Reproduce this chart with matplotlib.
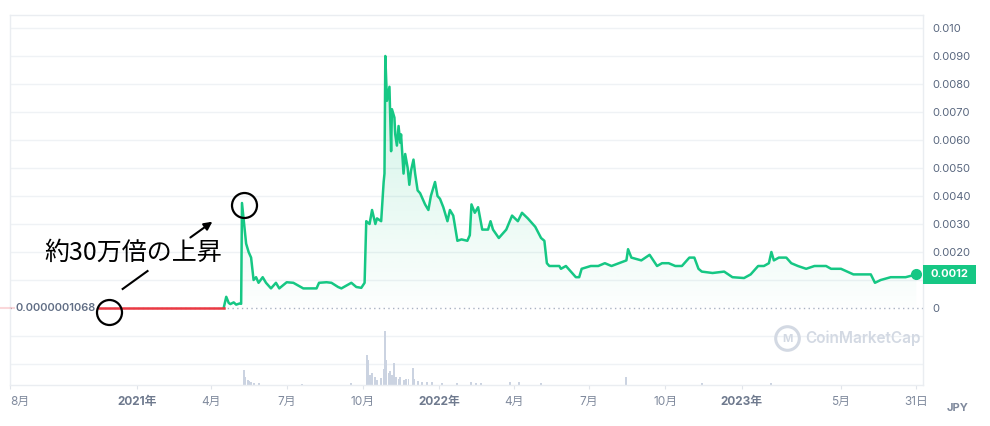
import matplotlib as mpl
mpl.use('Agg')
import matplotlib.pyplot as plt
import matplotlib.dates as mdates
import matplotlib.transforms as mtransforms
from matplotlib.colors import LinearSegmentedColormap
from matplotlib.patches import Rectangle
import numpy as np
import pandas as pd

plt.rcParams['font.family'] = ['Inter', 'Noto Sans CJK JP', 'DejaVu Sans']

GREEN = '#16c784'
RED = '#ea3943'
GRID = '#eff2f5'
LABEL = '#58667e'
MONTH = '#808a9d'

# --- data (JPY) ---
start_price = 0.0000001068
red_dates = ['2020-11-16', '2021-04-16']
red_vals = [start_price, start_price]

price_dates = [
    '2021-04-16', '2021-04-19', '2021-04-22', '2021-04-24', '2021-04-28', '2021-05-01',
    '2021-05-05', '2021-05-07', '2021-05-08', '2021-05-13', '2021-05-16', '2021-05-19',
    '2021-05-22', '2021-05-25', '2021-05-28', '2021-06-02', '2021-06-06', '2021-06-12',
    '2021-06-18', '2021-06-22', '2021-07-01', '2021-07-09', '2021-07-21', '2021-08-06',
    '2021-08-09', '2021-08-18', '2021-08-24', '2021-09-01', '2021-09-05', '2021-09-17',
    '2021-09-23', '2021-09-29', '2021-10-03', '2021-10-05', '2021-10-09', '2021-10-12',
    '2021-10-16', '2021-10-18', '2021-10-23', '2021-10-26', '2021-10-27', '2021-10-28',
    '2021-10-30', '2021-11-02', '2021-11-04', '2021-11-05', '2021-11-08', '2021-11-09',
    '2021-11-11', '2021-11-13', '2021-11-15', '2021-11-16', '2021-11-19', '2021-11-21',
    '2021-11-24', '2021-11-26', '2021-11-28', '2021-12-01', '2021-12-03', '2021-12-06',
    '2021-12-09', '2021-12-12', '2021-12-15', '2021-12-19', '2021-12-22', '2021-12-27',
    '2021-12-30', '2022-01-02', '2022-01-06', '2022-01-11', '2022-01-14', '2022-01-18',
    '2022-01-23', '2022-01-28', '2022-02-04', '2022-02-07', '2022-02-09', '2022-02-13',
    '2022-02-17', '2022-02-22', '2022-03-01', '2022-03-04', '2022-03-07', '2022-03-14',
    '2022-03-23', '2022-03-30', '2022-04-06', '2022-04-11', '2022-04-18', '2022-04-27',
    '2022-05-04', '2022-05-08', '2022-05-11', '2022-05-14', '2022-05-19', '2022-05-26',
    '2022-05-28', '2022-06-03', '2022-06-15', '2022-06-19', '2022-06-22', '2022-07-03',
    '2022-07-12', '2022-07-20', '2022-07-28', '2022-08-06', '2022-08-15', '2022-08-17',
    '2022-08-21', '2022-09-02', '2022-09-12', '2022-09-21', '2022-09-27', '2022-10-05',
    '2022-10-13', '2022-10-21', '2022-10-30', '2022-11-05', '2022-11-10', '2022-11-14',
    '2022-11-27', '2022-12-11', '2022-12-21', '2023-01-04', '2023-01-12', '2023-01-21',
    '2023-01-28', '2023-02-03', '2023-02-06', '2023-02-09', '2023-02-15', '2023-02-24',
    '2023-03-02', '2023-03-10', '2023-03-20', '2023-03-30', '2023-04-13', '2023-04-19',
    '2023-05-01', '2023-05-16', '2023-06-06', '2023-06-11', '2023-06-18', '2023-06-30',
    '2023-07-18', '2023-07-31',
]
price_vals = [
    0.00001, 0.00040, 0.00018, 0.00014, 0.00020, 0.00012,
    0.00016, 0.00015, 0.00375, 0.00230, 0.00200, 0.00180,
    0.00100, 0.00110, 0.00090, 0.00110, 0.00090, 0.00070,
    0.00090, 0.00070, 0.00092, 0.00090, 0.00070, 0.00070,
    0.00090, 0.00092, 0.00090, 0.00075, 0.00070, 0.00090,
    0.00075, 0.00072, 0.00090, 0.00310, 0.00300, 0.00350,
    0.00300, 0.00320, 0.00310, 0.00450, 0.00480, 0.00900,
    0.00740, 0.00790, 0.00560, 0.00710, 0.00680, 0.00620,
    0.00580, 0.00650, 0.00590, 0.00620, 0.00480, 0.00550,
    0.00500, 0.00440, 0.00490, 0.00530, 0.00480, 0.00420,
    0.00410, 0.00390, 0.00370, 0.00350, 0.00400, 0.00450,
    0.00400, 0.00390, 0.00360, 0.00310, 0.00350, 0.00330,
    0.00240, 0.00245, 0.00240, 0.00260, 0.00370, 0.00340,
    0.00360, 0.00280, 0.00280, 0.00310, 0.00280, 0.00250,
    0.00280, 0.00330, 0.00310, 0.00340, 0.00320, 0.00290,
    0.00250, 0.00240, 0.00160, 0.00150, 0.00150, 0.00150,
    0.00140, 0.00150, 0.00110, 0.00110, 0.00140, 0.00150,
    0.00150, 0.00160, 0.00150, 0.00160, 0.00170, 0.00210,
    0.00180, 0.00170, 0.00190, 0.00150, 0.00160, 0.00160,
    0.00150, 0.00150, 0.00180, 0.00180, 0.00140, 0.00130,
    0.00125, 0.00130, 0.00110, 0.00107, 0.00120, 0.00150,
    0.00150, 0.00160, 0.00200, 0.00170, 0.00180, 0.00180,
    0.00160, 0.00150, 0.00140, 0.00150, 0.00150, 0.00140,
    0.00140, 0.00120, 0.00120, 0.00090, 0.00100, 0.00110,
    0.00110, 0.00120,
]

# relative trading volume (tallest bar = 100)
vol_dates = [
    '2021-05-10', '2021-05-12', '2021-05-15', '2021-05-17', '2021-05-19', '2021-05-23',
    '2021-05-28', '2021-07-19', '2021-09-17', '2021-10-06', '2021-10-07', '2021-10-10',
    '2021-10-12', '2021-10-15', '2021-10-18', '2021-10-23', '2021-10-26', '2021-10-28',
    '2021-10-29', '2021-11-01', '2021-11-03', '2021-11-05', '2021-11-07', '2021-11-10',
    '2021-11-13', '2021-11-15', '2021-11-19', '2021-11-22', '2021-11-25', '2021-11-30',
    '2021-12-02', '2021-12-06', '2021-12-11', '2021-12-17', '2021-12-23', '2022-01-04',
    '2022-01-23', '2022-02-08', '2022-02-15', '2022-02-21', '2022-03-28', '2022-04-07',
    '2022-05-04', '2022-08-15', '2022-11-14', '2023-02-06',
]
vol_vals = [
    28, 15, 9, 7, 5, 4,
    3, 2, 4, 56, 46, 18,
    22, 15, 9, 13, 30, 100,
    46, 22, 26, 18, 41, 15,
    11, 15, 9, 11, 11, 31,
    11, 8, 6, 5, 5, 4,
    3, 5, 4, 3, 6, 5,
    4, 15, 3, 3,
]

ytick_vals = [0, 0.002, 0.003, 0.004, 0.005, 0.006, 0.007, 0.008, 0.009, 0.010]
ytick_labels = ['0', '0.0020', '0.0030', '0.0040', '0.0050', '0.0060', '0.0070',
                '0.0080', '0.0090', '0.010']
grid_levels = [-0.002, -0.001, 0.001, 0.002, 0.003, 0.004, 0.005, 0.006, 0.007,
               0.008, 0.009, 0.010]

xtick_dates = ['2020-08-01', '2021-01-01', '2021-04-01', '2021-07-01', '2021-10-01',
               '2022-01-01', '2022-04-01', '2022-07-01', '2022-10-01', '2023-01-01',
               '2023-05-01', '2023-07-31']
xtick_labels = ['8月', '2021年', '4月', '7月', '10月', '2022年', '4月', '7月', '10月',
                '2023年', '5月', '31日']

note_text = '約30万倍の上昇'

# --- figure ---
fig = plt.figure(figsize=(9.9, 4.26), dpi=100)
ax = fig.add_axes([10 / 990, 41 / 426, 913 / 990, 370 / 426])

ymin, ymax = -0.00275, 0.010464

red_x = pd.to_datetime(red_dates)
px = pd.to_datetime(price_dates)
pv = np.array(price_vals)

for lvl in grid_levels:
    ax.axhline(lvl, color=GRID, lw=1, zorder=0)
ax.axhline(0, color='#a9b2c2', lw=1, ls=(0, (1, 2.4)), zorder=1)

# volume strip along the bottom of the same axes
vol_span = 0.00193
vv = np.array(vol_vals) / max(vol_vals) * vol_span
ax.bar(pd.to_datetime(vol_dates), vv, bottom=ymin, width=2.4, color='#cbd3e1',
       zorder=1)

ax.plot(px, pv, color=GREEN, lw=1.8, zorder=4, solid_joinstyle='round')
ax.plot(red_x, red_vals, color=RED, lw=1.8, zorder=4)

# gradient fill under the green line
poly = ax.fill_between(px, pv, 0, facecolor='none', edgecolor='none')
cmap = LinearSegmentedColormap.from_list(
    'g', [(22 / 255, 199 / 255, 132 / 255, 0.01), (22 / 255, 199 / 255, 132 / 255, 0.22)])
grad = np.linspace(1, 0, 256).reshape(-1, 1)
x0, x1 = mdates.date2num(px[0]), mdates.date2num(px[-1])
img = ax.imshow(grad, extent=[x0, x1, 0, pv.max()], aspect='auto', cmap=cmap,
                origin='upper', zorder=2, interpolation='bilinear')
img.set_clip_path(poly.get_paths()[0], transform=ax.transData)
poly.remove()

ax.plot(px[-1], pv[-1], 'o', color=GREEN, ms=7, zorder=5, clip_on=False)

ax.set_xlim(pd.Timestamp('2020-08-01'), pd.Timestamp('2023-08-08'))
ax.set_ylim(ymin, ymax)

for s in ax.spines.values():
    s.set_color('#eaedf1')
    s.set_linewidth(1)

ax.yaxis.tick_right()
ax.set_yticks(ytick_vals)
ax.set_yticklabels(ytick_labels)
ax.tick_params(axis='y', length=0, pad=6.5, labelsize=8, labelcolor=LABEL)

ax.set_xticks(pd.to_datetime(xtick_dates))
ax.set_xticklabels(xtick_labels)
ax.tick_params(axis='x', length=3, pad=5, color='#e0e4ea', labelsize=8.5,
               labelcolor=MONTH)
for t in ax.get_xticklabels():
    if '年' in t.get_text():
        t.set_fontweight('bold')
        t.set_color('#6f7a8e')
ax.get_xticklabels()[0].set_horizontalalignment('left')

# current price badge
bt = mtransforms.blended_transform_factory(ax.transAxes, ax.transData)
bh = 0.00068
ax.add_patch(Rectangle((1.0, pv[-1] - bh / 2), 53 / 913, bh, transform=bt,
                       facecolor=GREEN, edgecolor='none', clip_on=False, zorder=6))
ax.text(1.0 + 26.5 / 913, pv[-1], f'{pv[-1]:.4f}', transform=bt, ha='center',
        va='center', color='white', fontsize=8, fontweight='bold', zorder=7)

# starting price label
ax.plot([-0.012, 0.095], [start_price, start_price], transform=bt, color=RED,
        alpha=0.2, lw=1.5, clip_on=False, zorder=3)
ax.text(6 / 913, start_price, f'{start_price:.10f}', transform=bt, ha='left',
        va='center', fontsize=8, color='#616e85', fontweight='semibold', zorder=6,
        bbox=dict(boxstyle='square,pad=0.1', fc='white', ec='none'))

# watermark
ax.plot([0.851], [0.127], 'o', transform=ax.transAxes, ms=17, mfc='none',
        mec='#d3d9e3', mew=2.2, zorder=3)
ax.text(0.851, 0.125, 'M', transform=ax.transAxes, ha='center', va='center',
        fontsize=8, color='#d3d9e3', fontweight='bold')
ax.text(0.871, 0.127, 'CoinMarketCap', transform=ax.transAxes, ha='left',
        va='center', fontsize=11, color='#d3d9e3', fontweight='semibold')

fig.text(958 / 990, 1 - 408 / 426, 'JPY', ha='center', va='center', fontsize=8,
         fontweight='bold', color=MONTH)

# annotation
def dn(s):
    return mdates.date2num(pd.Timestamp(s))

ax.plot([dn('2020-11-29')], [-0.00014], 'o', ms=18, mfc='none', mec='black',
        mew=1.6, zorder=8, clip_on=False)
ax.plot([dn('2021-05-10')], [0.00368], 'o', ms=18, mfc='none', mec='black',
        mew=1.6, zorder=8, clip_on=False)
ax.plot([dn('2020-12-15'), dn('2021-01-14')], [0.00068, 0.00132], color='black',
        lw=1.5, zorder=8)
ax.annotate('', xy=(dn('2021-04-05'), 0.00314), xytext=(dn('2021-03-04'), 0.00246),
            arrowprops=dict(arrowstyle='-|>', color='black', lw=1.5, mutation_scale=12),
            zorder=8)
ax.text(dn('2020-12-28'), 0.00196, note_text, ha='center', va='center', fontsize=18,
        color='black', family=['Noto Sans CJK JP'], zorder=8)

fig.savefig('out.png', dpi=100, facecolor='white')
